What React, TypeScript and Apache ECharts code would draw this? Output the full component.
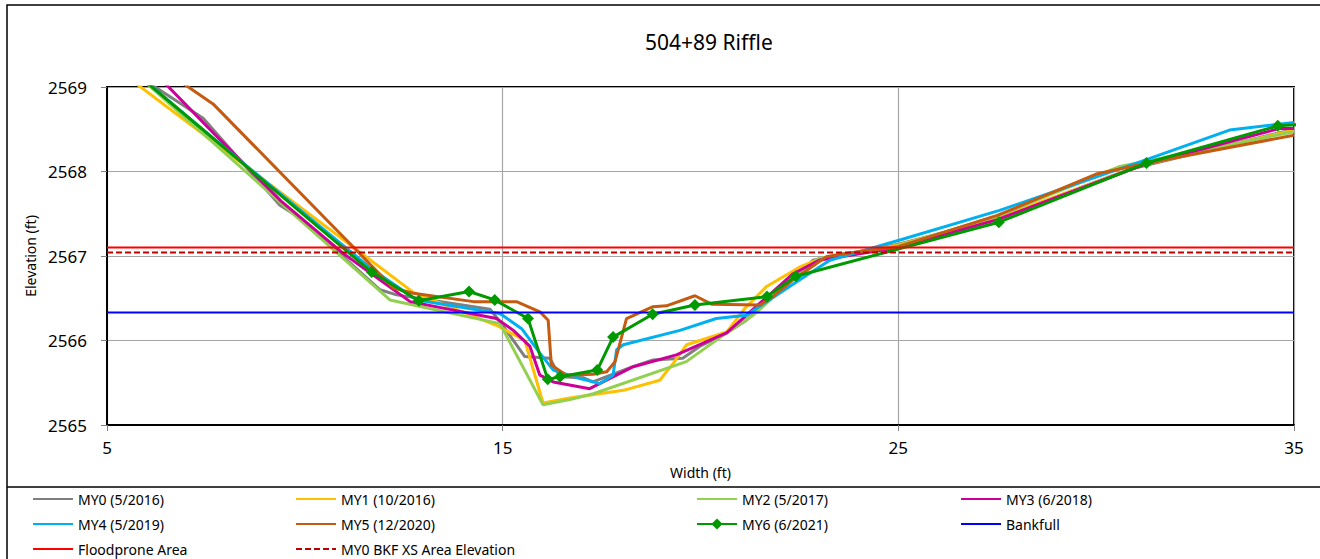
import React, { useEffect, useRef } from "react";
import * as echarts from "echarts";

const TITLE = "504+89 Riffle";
const X_NAME = "Width (ft)";
const Y_NAME = "Elevation (ft)";
const X_MIN = 5;
const X_MAX = 35;
const X_STEP = 10;
const Y_MIN = 2565;
const Y_MAX = 2569;
const Y_STEP = 1;

const my0: number[][] = [
  [5.0, 2569.37], [7.43, 2568.63], [9.37, 2567.6], [9.88, 2567.45], [11.9, 2566.6], [12.32, 2566.54],
  [14.68, 2566.37], [14.97, 2566.2], [15.56, 2565.81], [16.19, 2565.79], [16.45, 2565.57], [17.03, 2565.56],
  [17.28, 2565.51], [18.29, 2565.69], [18.8, 2565.77], [19.55, 2565.79], [19.98, 2565.93], [20.66, 2566.09],
  [21.16, 2566.24], [21.67, 2566.46], [22.34, 2566.72], [22.84, 2566.95], [23.18, 2566.98], [25.0, 2567.14],
  [27.5, 2567.44], [30.8, 2568.02], [35.0, 2568.5],
];
const my1: number[][] = [
  [5.0, 2569.3], [12.74, 2566.57], [14.84, 2566.18], [15.56, 2566.0], [16.02, 2565.26], [16.7, 2565.32],
  [18.05, 2565.41], [18.97, 2565.53], [19.31, 2565.73], [19.65, 2565.95], [20.66, 2566.1], [21.12, 2566.38],
  [21.67, 2566.64], [22.51, 2566.87], [22.93, 2566.95], [25.0, 2567.13], [27.5, 2567.45], [31.2, 2568.08],
  [35.0, 2568.49],
];
const my2: number[][] = [
  [5.0, 2569.46], [12.15, 2566.48], [14.93, 2566.2], [16.02, 2565.24], [16.7, 2565.3], [17.29, 2565.37],
  [19.64, 2565.75], [20.66, 2566.09], [21.33, 2566.3], [22.34, 2566.72], [23.0, 2566.97], [25.0, 2567.12],
  [27.5, 2567.47], [30.6, 2568.06], [35.0, 2568.47],
];
const my3: number[][] = [
  [5.0, 2569.75], [7.7, 2568.45], [9.4, 2567.65], [11.0, 2567.02], [12.66, 2566.46], [14.84, 2566.26],
  [15.27, 2566.12], [15.69, 2565.93], [15.94, 2565.59], [16.28, 2565.51], [17.2, 2565.43], [18.3, 2565.69],
  [19.39, 2565.83], [19.98, 2565.95], [20.66, 2566.09], [22.34, 2566.79], [23.0, 2566.95], [25.0, 2567.1],
  [27.5, 2567.43], [31.2, 2568.08], [34.64, 2568.51], [35.0, 2568.51],
];
const my4: number[][] = [
  [5.0, 2569.45], [8.0, 2568.27], [11.68, 2566.85], [12.83, 2566.48], [14.93, 2566.32], [15.48, 2566.14],
  [15.94, 2565.85], [16.28, 2565.65], [16.95, 2565.55], [17.46, 2565.49], [17.79, 2565.59], [17.88, 2565.89],
  [18.05, 2565.95], [19.48, 2566.12], [20.4, 2566.26], [21.16, 2566.3], [21.67, 2566.46], [22.51, 2566.72],
  [23.27, 2566.95], [25.04, 2567.19], [27.56, 2567.54], [31.27, 2568.14], [33.37, 2568.49], [35.0, 2568.58],
];
const my5: number[][] = [
  [5.0, 2569.66], [7.68, 2568.8], [12.24, 2566.62], [12.74, 2566.56], [14.26, 2566.46], [15.35, 2566.46],
  [15.94, 2566.34], [16.15, 2566.24], [16.23, 2565.71], [16.61, 2565.59], [17.29, 2565.6], [17.63, 2565.63],
  [17.84, 2565.75], [18.13, 2566.26], [18.8, 2566.4], [19.14, 2566.41], [19.86, 2566.53], [20.28, 2566.43],
  [21.5, 2566.42], [21.83, 2566.52], [22.34, 2566.72], [23.18, 2566.99], [23.52, 2567.02], [25.0, 2567.11],
  [27.5, 2567.48], [30.0, 2567.97], [31.3, 2568.1], [35.0, 2568.43],
];
const my6: number[][] = [
  [5.0, 2569.45], [11.69, 2566.81], [12.88, 2566.47], [14.15, 2566.58], [14.8, 2566.48], [15.64, 2566.26],
  [16.14, 2565.54], [16.45, 2565.57], [17.39, 2565.65], [17.79, 2566.04], [18.79, 2566.31], [19.86, 2566.42],
  [21.68, 2566.52], [22.41, 2566.76], [27.54, 2567.4], [31.27, 2568.1], [34.59, 2568.54], [36.0, 2568.58],
];
const bankfullElev = 2566.33;
const floodproneElev = 2567.1;
const bkfXsAreaElev = 2567.04;

const names = [
  "MY0 (5/2016)", "MY1 (10/2016)", "MY2 (5/2017)", "MY3 (6/2018)", "MY4 (5/2019)",
  "MY5 (12/2020)", "MY6 (6/2021)", "Bankfull", "Floodprone Area", "MY0 BKF XS Area Elevation",
];
const colors = [
  "#7F7F7F", "#FFC000", "#92D050", "#CC0099", "#00B0F0", "#C55A11", "#009900", "#0000FF", "#FF0000", "#C00000",
];
const legendColumns = [
  ["MY0 (5/2016)", "MY4 (5/2019)", "Floodprone Area"],
  ["MY1 (10/2016)", "MY5 (12/2020)", "MY0 BKF XS Area Elevation"],
  ["MY2 (5/2017)", "MY6 (6/2021)"],
  ["MY3 (6/2018)", "Bankfull"],
];
const markerSeries = "MY6 (6/2021)";

const FONT = "'Noto Sans', 'Open Sans', sans-serif";

export default function App() {
  const ref = useRef<HTMLDivElement>(null);
  useEffect(() => {
    document.body.style.margin = "0";
    const chart = echarts.init(ref.current!, undefined, { renderer: "svg" });
    const surveys = [my0, my1, my2, my3, my4, my5, my6];
    const flat = [bankfullElev, floodproneElev, bkfXsAreaElev];
    const series: any[] = surveys.map((d, i) => ({
      type: "line",
      name: names[i],
      data: d,
      symbol: i === 6 ? "diamond" : "none",
      symbolSize: 12,
      showSymbol: i === 6,
      lineStyle: { width: 3, color: colors[i] },
      itemStyle: { color: colors[i] },
      clip: true,
    }));
    flat.forEach((v, j) => {
      const i = 7 + j;
      series.push({
        type: "line",
        name: names[i],
        data: [[X_MIN, v], [X_MAX, v]],
        symbol: "none",
        lineStyle: { width: 2, color: colors[i], type: j === 2 ? [6, 3] : "solid" },
        itemStyle: { color: colors[i] },
      });
    });
    const colX = [32, 295, 696, 960];
    chart.setOption({
      animation: false,
      textStyle: { fontFamily: FONT },
      grid: {
        left: 107, top: 87, right: 26, bottom: 134,
        show: true, borderColor: "#000", borderWidth: 2, containLabel: false,
      },
      xAxis: {
        type: "value", min: X_MIN, max: X_MAX, interval: X_STEP,
        name: X_NAME, nameLocation: "middle", nameGap: 40,
        nameTextStyle: { fontSize: 14, color: "#000", fontFamily: FONT },
        axisLine: { show: true, lineStyle: { color: "#000", width: 2 } },
        axisTick: { show: true, length: 6, lineStyle: { color: "#7F7F7F" } },
        axisLabel: { fontSize: 17, color: "#000", margin: 14, fontFamily: FONT, formatter: (v: number) => String(v) },
        splitLine: { show: true, lineStyle: { color: "#A6A6A6", width: 1.2 } },
      },
      yAxis: {
        type: "value", min: Y_MIN, max: Y_MAX, interval: Y_STEP,
        name: Y_NAME, nameLocation: "middle", nameGap: 70,
        nameTextStyle: { fontSize: 14, color: "#000", fontFamily: FONT },
        axisLine: { show: true, lineStyle: { color: "#000", width: 2 } },
        axisTick: { show: true, length: 6, lineStyle: { color: "#7F7F7F" } },
        axisLabel: { fontSize: 17, color: "#000", margin: 20, fontFamily: FONT, formatter: (v: number) => String(v) },
        splitLine: { show: true, lineStyle: { color: "#A6A6A6", width: 1.2 } },
      },
      legend: legendColumns.map((col, k) => ({
        type: "plain",
        orient: "vertical",
        left: colX[k],
        top: 492,
        padding: 0,
        itemWidth: 40,
        itemHeight: 14,
        itemGap: 11,
        selectedMode: false,
        data: col.map((n) =>
          n === markerSeries
            ? { name: n }
            : { name: n, itemStyle: { color: "transparent", opacity: 0, borderWidth: 0 } }
        ),
        textStyle: { fontSize: 14, color: "#000", fontFamily: FONT, lineHeight: 14 },
      })),
      graphic: [
        {
          type: "text", left: 710 - 65, top: 31,
          style: { text: TITLE, font: `21px ${FONT}`, fill: "#000" },
        },
        {
          type: "polyline", silent: true,
          shape: { points: [[7, 559], [7, 5], [1320, 5]] },
          style: { stroke: "#000", lineWidth: 1.5, fill: null },
        },
        {
          type: "line", silent: true,
          shape: { x1: 7, y1: 487, x2: 1320, y2: 487 },
          style: { stroke: "#000", lineWidth: 1.5 },
        },
      ],
      series,
    });
    return () => chart.dispose();
  }, []);
  return <div ref={ref} style={{ width: 1320, height: 559 }} />;
}
